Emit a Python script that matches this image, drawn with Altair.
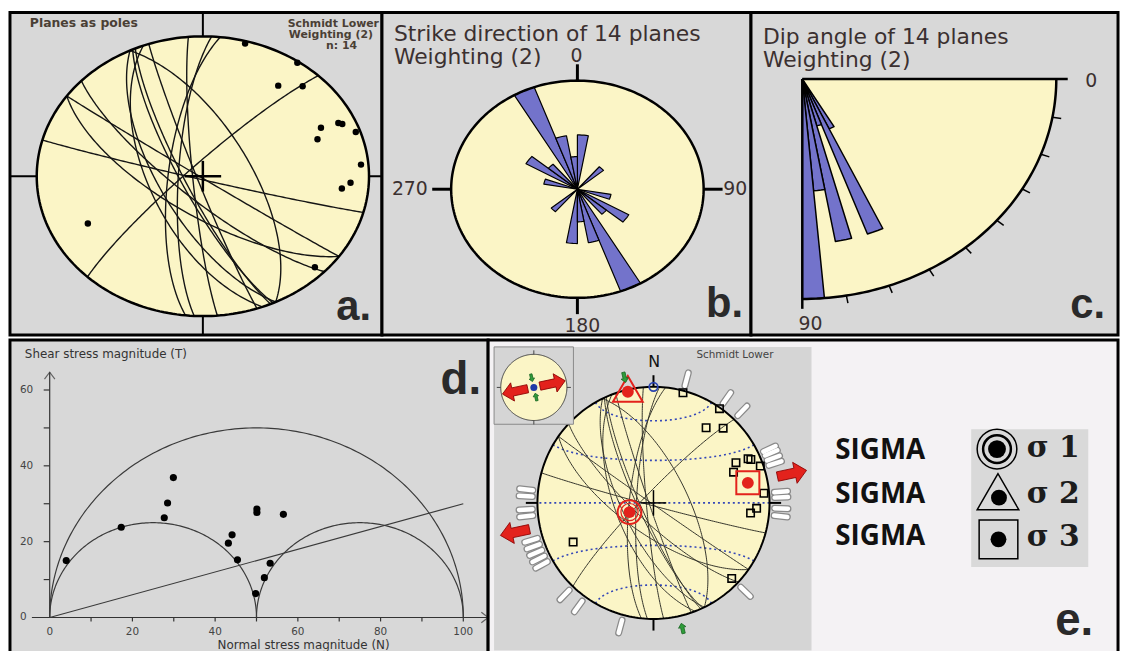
import numpy as np
import pandas as pd
import altair as alt

# ------------------------------------------------------------------ data
# 14 measured planes: dip direction / dip (degrees)
plane_dip_dir = [195, 215, 215, 223, 244, 249, 245, 246, 251, 265, 273, 276, 314, 64]
plane_dip = [88, 89, 68, 77, 68, 63, 79, 81, 87, 85, 78, 73, 83, 66]

# b. strike rose (bidirectional, 10 degree bins, relative petal length)
strike_bin_start = [0, 40, 100, 120, 130, 150, 160, 170]
strike_bin_len = [0.50, 0.27, 0.27, 0.47, 0.30, 1.00, 0.50, 0.30]
STRIKE_BIN = 10

# c. dip rose (5 degree bins, relative petal length)
dip_bin_start = [60, 65, 70, 75, 80, 85]
dip_bin_len = [0.25, 0.75, 0.22, 0.75, 0.51, 1.00]
DIP_BIN = 5
dip_ticks = [10, 20, 30, 40, 50, 60, 70, 80]

# d. Mohr diagram
principal_stress = [100, 50, 0]
friction_coef = 0.30
normal_stress = [4.0, 17.3, 27.7, 28.5, 29.9, 43.2, 44.1, 45.4, 49.8, 51.9, 53.3, 50.1, 50.1, 56.5]
shear_stress = [15.0, 23.8, 26.3, 30.2, 36.9, 19.6, 21.8, 15.2, 6.3, 10.5, 14.3, 28.6, 27.7, 27.2]
d_tick_x = [10, 20, 30, 40, 50, 60, 70, 80, 90, 100]
d_tick_y = [10, 20, 30, 40, 50, 60]
d_label_x = [0, 20, 40, 60, 80, 100]
d_label_y = [0, 20, 40, 60]

# e. principal stress axes (trend, plunge) and slip markers
sigma_trend = [249, 347, 78]
sigma_plunge = [72, 2, 18]
slip_marker_az = [15, 35, 44, 65, 67, 69.5, 72, 85, 87.5, 92.5, 96, 134, 195, 216, 224,
                  241, 244, 247, 250, 253, 264, 267, 273, 276]
small_circle_cone = [30, 60, 90, 120, 150]
compass_az = [0, 90, 180, 270]
legend_sigma = ["σ 1", "σ 2", "σ 3"]

# ------------------------------------------------------------------ styles
YEL = "#fbf5c6"
GRAY = "#d8d8d8"
GRAY_E = "#d5d5d5"
OFFWHITE = "#f4f2f4"
PETAL = "#7373cb"
TXT = "#3b3030"
RED = "#e3221c"
FONT = "DejaVu Sans"
LABEL_FONT = "Liberation Sans"


# ------------------------------------------------------------------ geometry helpers
def equal_area(trend, plunge):
    t = np.radians(np.asarray(trend, float))
    p = np.radians(np.asarray(plunge, float))
    r = np.sqrt(2) * np.sin((np.pi / 2 - p) / 2)
    return r * np.sin(t), r * np.cos(t)


def vec_to_tp(e, n, d):
    return np.degrees(np.arctan2(e, n)), np.degrees(np.arcsin(np.clip(d, -1, 1)))


def great_circle(dd, dp):
    t = np.radians(np.linspace(0, 180, 121))
    s, d, a = np.radians(dd - 90), np.radians(dd), np.radians(dp)
    e = np.cos(t) * np.sin(s) + np.sin(t) * np.sin(d) * np.cos(a)
    n = np.cos(t) * np.cos(s) + np.sin(t) * np.cos(d) * np.cos(a)
    dn = np.sin(t) * np.sin(a)
    return equal_area(*vec_to_tp(e, n, dn))


def small_circle_ns(cone):
    phi = np.radians(np.linspace(0, 180, 121))
    c = np.radians(cone)
    n = np.cos(c) * np.ones_like(phi)
    e = np.sin(c) * np.cos(phi)
    dn = np.sin(c) * np.sin(phi)
    return equal_area(*vec_to_tp(e, n, dn))


THETA = np.radians(np.linspace(0, 360, 241))


def ring(cx=0.0, cy=0.0, r=1.0, id_=0):
    return pd.DataFrame({"x": cx + r * np.sin(THETA), "y": cy + r * np.cos(THETA),
                         "i": np.arange(THETA.size), "id": id_})


def radial(az, r1, r2, cx=0.0, cy=0.0):
    a = np.radians(np.asarray(az, float))
    return pd.DataFrame({"x": cx + r1 * np.sin(a), "y": cy + r1 * np.cos(a),
                         "x2": cx + r2 * np.sin(a), "y2": cy + r2 * np.cos(a)})


def enc(xd, yd):
    return dict(x=alt.X("x:Q", scale=alt.Scale(domain=xd, nice=False, zero=False), axis=None),
                y=alt.Y("y:Q", scale=alt.Scale(domain=yd, nice=False, zero=False), axis=None))


def poly(df, xd, yd, fill, stroke="black", sw=1.0):
    return alt.Chart(df).mark_line(fill=fill, stroke=stroke, strokeWidth=sw, strokeJoin="round").encode(
        **enc(xd, yd), detail="id:N", order="i:Q")


def lines(df, xd, yd, color, sw, dash=None, clip=False):
    kw = dict(color=color, strokeWidth=sw, clip=clip)
    if dash:
        kw["strokeDash"] = dash
    return alt.Chart(df).mark_line(**kw).encode(**enc(xd, yd), detail="id:N", order="i:Q")


def segs(df, xd, yd, color, sw, cap="butt", clip=False):
    return alt.Chart(df).mark_rule(color=color, strokeWidth=sw, strokeCap=cap, clip=clip).encode(
        **enc(xd, yd), x2="x2:Q", y2="y2:Q")


def pts(df, xd, yd, **mk):
    return alt.Chart(df).mark_point(**mk).encode(**enc(xd, yd))


ONE = pd.DataFrame({"k": [0]})


def label(s, x, y, size, color="#222", weight="normal", font=FONT, align="left", baseline="alphabetic"):
    return alt.Chart(ONE).mark_text(text=s, fontSize=size, font=font, fontWeight=weight, color=color,
                                    align=align, baseline=baseline).encode(x=alt.value(x), y=alt.value(y))


def box(x1, y1, x2, y2, fill, stroke=None, sw=1):
    kw = dict(fill=fill)
    if stroke:
        kw.update(stroke=stroke, strokeWidth=sw)
    return alt.Chart(ONE).mark_rect(**kw).encode(x=alt.value(x1), x2=alt.value(x2), y=alt.value(y1),
                                                 y2=alt.value(y2))


def panel(layers, w, h, fill):
    return alt.layer(*layers).properties(width=w, height=h,
                                         view=alt.ViewBackground(fill=fill, stroke="black", strokeWidth=3))


ARROW = "M-1,-0.32L0.2,-0.32L0.2,-0.72L1,0L0.2,0.72L0.2,0.32L-1,0.32Z"
CHEVRON = "M-1,-1.5L1,0L-1,1.5"

# shared stereonet data
gc_df = pd.concat([pd.DataFrame({"x": g[0], "y": g[1], "i": np.arange(g[0].size), "id": k})
                   for k, g in enumerate(great_circle(dd, dp) for dd, dp in zip(plane_dip_dir, plane_dip))])
px_, py_ = equal_area(np.array(plane_dip_dir) + 180, 90 - np.array(plane_dip))
poles_df = pd.DataFrame({"x": px_, "y": py_})
unit_ring = ring()

# ------------------------------------------------------------------ panel a
W_A, W_B, W_C, H_TOP = 375, 372, 370, 325
XA, YA = [-1.161, 1.078], [-1.135, 1.170]
pa = panel([
    poly(unit_ring, XA, YA, YEL, "black", 0),
    segs(radial(compass_az, 1.0, 1.4), XA, YA, "black", 2, clip=True),
    lines(gc_df, XA, YA, "#151515", 1.4),
    segs(radial(compass_az, 0, 0.11), XA, YA, "black", 2.5),
    lines(unit_ring, XA, YA, "black", 2.5),
    pts(poles_df, XA, YA, shape="circle", filled=True, color="black", size=42, opacity=1),
    label("Planes as poles", 20, 15, 12.5, "#4a3f35", "bold"),
    label("Schmidt Lower", 372, 15, 11, "#4a3f35", "bold", align="right"),
    label("Weighting (2)", 366, 26, 11, "#4a3f35", "bold", align="right"),
    label("n: 14", 350, 37, 11, "#4a3f35", "bold", align="right"),
    label("a.", 364, 310, 42, "#2a2a2a", "bold", LABEL_FONT, align="right"),
], W_A, H_TOP, GRAY)

# ------------------------------------------------------------------ panel b
XB, YB = [-1.548, 1.375], [-1.342, 1.626]
rows = []
pid = 0
for s, L in zip(strike_bin_start, strike_bin_len):
    for base in (s, s + 180):
        az = np.radians(np.linspace(base, base + STRIKE_BIN, 6))
        xs = np.concatenate([[0], L * np.sin(az), [0]])
        ys = np.concatenate([[0], L * np.cos(az), [0]])
        rows.append(pd.DataFrame({"x": xs, "y": ys, "i": np.arange(xs.size), "id": pid}))
        pid += 1
petal_b = pd.concat(rows)
pb = panel([
    poly(unit_ring, XB, YB, YEL, "black", 0),
    segs(radial(compass_az, 1.0, 1.15), XB, YB, "black", 3),
    poly(petal_b, XB, YB, PETAL, "black", 1.2),
    lines(unit_ring, XB, YB, "black", 2.5),
    label("Strike direction of 14 planes", 12, 29, 22, TXT),
    label("Weighting (2)", 12, 52, 22, TXT),
    label("0", 196, 44, 19, TXT, align="center", baseline="middle"),
    label("90", 344, 178, 19, TXT, baseline="middle"),
    label("270", 10, 178, 19, TXT, baseline="middle"),
    label("180", 202, 316, 19, TXT, align="center", baseline="middle"),
    label("b.", 364, 307, 42, "#2a2a2a", "bold", LABEL_FONT, align="right"),
], W_B, H_TOP, GRAY)

# ------------------------------------------------------------------ panel c
XC, YC = [-0.202, 1.243], [-1.164, 0.302]


def fan_xy(ang, r):
    a = np.radians(np.asarray(ang, float))
    return r * np.cos(a), -r * np.sin(a)


fa = np.linspace(0, 90, 91)
fx, fy = fan_xy(fa, 1.0)
fan_df = pd.DataFrame({"x": np.concatenate([[0], fx, [0]]), "y": np.concatenate([[0], fy, [0]])})
fan_df["i"] = np.arange(len(fan_df))
fan_df["id"] = 0
arc_df = pd.DataFrame({"x": fx, "y": fy, "i": np.arange(fx.size), "id": 0})
rows = []
for k, (s, L) in enumerate(zip(dip_bin_start, dip_bin_len)):
    a = np.linspace(s, s + DIP_BIN, 4)
    xs, ys = fan_xy(a, L)
    xs = np.concatenate([[0], xs, [0]])
    ys = np.concatenate([[0], ys, [0]])
    rows.append(pd.DataFrame({"x": xs, "y": ys, "i": np.arange(xs.size), "id": k}))
petal_c = pd.concat(rows)
tx1, ty1 = fan_xy(dip_ticks, 1.0)
tx2, ty2 = fan_xy(dip_ticks, 1.035)
ticks_c = pd.DataFrame({"x": tx1, "y": ty1, "x2": tx2, "y2": ty2})
ax1, ay1 = fan_xy([0, 90], 0.0)
ax2, ay2 = fan_xy([0, 90], 1.045)
axes_c = pd.DataFrame({"x": ax1, "y": ay1, "x2": ax2, "y2": ay2})
pc = panel([
    poly(fan_df, XC, YC, YEL, "black", 0),
    segs(ticks_c, XC, YC, "black", 1.5),
    poly(petal_c, XC, YC, PETAL, "black", 1.5),
    lines(arc_df, XC, YC, "black", 2.5),
    segs(axes_c, XC, YC, "black", 2.5),
    label("Dip angle of 14 planes", 12, 32, 22, TXT),
    label("Weighting (2)", 12, 55, 22, TXT),
    label("0", 343, 69, 19, TXT, align="center", baseline="middle"),
    label("90", 60, 314, 19, TXT, align="center", baseline="middle"),
    label("c.", 357, 308, 42, "#2a2a2a", "bold", LABEL_FONT, align="right"),
], W_C, H_TOP, GRAY)

# ------------------------------------------------------------------ panel d
W_D, W_E, H_BOT = 482, 635, 318
XD, YD = [-9.6, 106.0], [-10.0, 73.2]
t = np.radians(np.linspace(0, 180, 181))
s1, s2, s3 = principal_stress
mohr = []
for k, (hi, lo) in enumerate([(s1, s3), (s1, s2), (s2, s3)]):
    c, R = (hi + lo) / 2, (hi - lo) / 2
    mohr.append(pd.DataFrame({"x": c + R * np.cos(t), "y": R * np.sin(t), "i": np.arange(t.size), "id": k}))
mohr_df = pd.concat(mohr)
env_df = pd.DataFrame({"x": [0, s1], "y": [0, friction_coef * s1], "i": [0, 1], "id": 0})
axes_d = pd.DataFrame({"x": [-4.3, 0], "y": [0, 0], "x2": [106.0, 0], "y2": [0, 64.7]})
ticks_dx = pd.DataFrame({"x": d_tick_x, "y": 0.0, "x2": d_tick_x, "y2": -1.05})
ticks_dy = pd.DataFrame({"x": -1.45, "y": d_tick_y, "x2": 0.0, "y2": d_tick_y})
heads_d = pd.DataFrame({"x": [105.2, 0.0], "y": [0.0, 63.8], "ang": [0, 270]})
stress_df = pd.DataFrame({"x": normal_stress, "y": shear_stress})
lab_dx = pd.DataFrame({"x": d_label_x, "y": -3.9, "t": [str(v) for v in d_label_x]})
lab_dy = pd.DataFrame({"y": d_label_y, "t": [str(v) for v in d_label_y]})
pd_ = panel([
    segs(axes_d, XD, YD, "#333", 1.2),
    segs(ticks_dx, XD, YD, "#333", 1.2),
    segs(ticks_dy, XD, YD, "#333", 1.2),
    alt.Chart(heads_d).mark_point(shape=CHEVRON, filled=False, stroke="#333", strokeWidth=1.2, size=49).encode(
        **enc(XD, YD), angle=alt.Angle("ang:Q", scale=None)),
    lines(mohr_df, XD, YD, "#3a3a3a", 1.2),
    lines(env_df, XD, YD, "#3a3a3a", 1.2),
    alt.Chart(stress_df).mark_circle(size=52, color="black", opacity=1).encode(**enc(XD, YD)),
    alt.Chart(lab_dx).mark_text(fontSize=10.5, font=FONT, color="#444", baseline="middle").encode(
        **enc(XD, YD), text="t:N"),
    alt.Chart(lab_dy).mark_text(fontSize=10.5, font=FONT, color="#444", align="left", baseline="middle").encode(
        x=alt.value(10), y=alt.Y("y:Q", scale=alt.Scale(domain=YD, nice=False, zero=False), axis=None),
        text="t:N"),
    label("Shear stress magnitude (T)", 15, 18, 12, "#333"),
    label("Normal stress magnitude (N)", 296, 312, 12, "#333", align="center"),
    label("d.", 475, 54, 46, "#2a2a2a", "bold", LABEL_FONT, align="right"),
], W_D, H_BOT, GRAY)

# ------------------------------------------------------------------ panel e
XE, YE = [-1.425, 4.003], [-1.314, 1.404]
sc_df = pd.concat([pd.DataFrame({"x": g[0], "y": g[1], "i": np.arange(g[0].size), "id": k})
                   for k, g in enumerate(small_circle_ns(c) for c in small_circle_cone)])
sx, sy = equal_area(sigma_trend, sigma_plunge)
sig = [pd.DataFrame({"x": [sx[k]], "y": [sy[k]]}) for k in range(3)]
a3 = np.array([sigma_trend[2], sigma_trend[2] + 180])
red_arrows = pd.DataFrame({"x": 1.22 * np.sin(np.radians(a3)), "y": 1.22 * np.cos(np.radians(a3)),
                           "ang": (a3 - 90) % 360})
a2 = np.array([sigma_trend[1], sigma_trend[1] + 180])
green_arrows = pd.DataFrame({"x": 1.11 * np.sin(np.radians(a2)), "y": 1.11 * np.cos(np.radians(a2)),
                             "ang": (a2 + 90) % 360})
nx, ny = equal_area([0], [0])
north_df = pd.DataFrame({"x": nx, "y": ny})
# inset
IC = (-1.031, 0.995)
IR = 0.285
inset_ring = ring(IC[0], IC[1], IR)
inset_ticks = radial(compass_az, IR, IR * 1.12, IC[0], IC[1])
inset_red = pd.DataFrame({"x": IC[0] + 0.165 * np.sin(np.radians(a3)),
                          "y": IC[1] + 0.165 * np.cos(np.radians(a3)), "ang": (a3 - 90) % 360})
inset_green = pd.DataFrame({"x": IC[0] + 0.085 * np.sin(np.radians(a2)),
                            "y": IC[1] + 0.085 * np.cos(np.radians(a2)), "ang": (a2 + 90) % 360})
inset_dot = pd.DataFrame({"x": [IC[0]], "y": [IC[1]]})


def sym(df, **mk):
    return alt.Chart(df).mark_point(**mk).encode(**enc(XE, YE))


def arrows(df, size, fill, stroke):
    return alt.Chart(df).mark_point(shape=ARROW, filled=True, fill=fill, stroke=stroke, strokeWidth=0.8,
                                    size=size, opacity=1).encode(**enc(XE, YE),
                                                                 angle=alt.Angle("ang:Q", scale=None))


def lg_pt(x, y, **mk):
    return alt.Chart(ONE).mark_point(**mk).encode(x=alt.value(x), y=alt.value(y))


pe = panel([
    box(6, 7, 326, 313, GRAY_E),
    poly(unit_ring, XE, YE, YEL, "black", 0),
    lines(sc_df, XE, YE, "#3447b8", 1.6, dash=[2, 3]),
    lines(gc_df, XE, YE, "#34342a", 1.0),
    segs(radial(compass_az, 0, 0.11), XE, YE, "black", 1.5),
    lines(unit_ring, XE, YE, "black", 2),
    segs(radial(compass_az, 1.0, 1.1), XE, YE, "black", 2),
    segs(radial(slip_marker_az, 1.045, 1.16), XE, YE, "#8a8a8a", 7, cap="round"),
    segs(radial(slip_marker_az, 1.045, 1.16), XE, YE, "white", 4.5, cap="round"),
    sym(poles_df, shape="square", filled=False, stroke="black", strokeWidth=1.6, size=56, opacity=1),
    # sigma 1
    sym(sig[0], shape="circle", filled=False, stroke=RED, strokeWidth=2, size=576, opacity=1),
    sym(sig[0], shape="circle", filled=False, stroke=RED, strokeWidth=1.2, size=300, opacity=1),
    # sigma 2
    sym(sig[1], shape="triangle-up", filled=False, stroke=RED, strokeWidth=2, size=900, opacity=1, yOffset=-3),
    # sigma 3
    sym(sig[2], shape="square", filled=False, stroke=RED, strokeWidth=2, size=540, opacity=1),
    alt.Chart(pd.concat(sig)).mark_circle(size=144, color=RED, opacity=1).encode(**enc(XE, YE)),
    arrows(red_arrows, 900, RED, "#8a0000"),
    arrows(green_arrows, 110, "#2f9c3a", "#1d6a25"),
    sym(north_df, shape="circle", filled=False, stroke="#2a44b0", strokeWidth=1.8, size=75, opacity=1),
    label("N", 167.5, 27, 16, "#111", align="center"),
    label("Schmidt Lower", 210, 18, 10.5, "#444"),
    # inset
    box(6, 7, 86, 85, GRAY_E, "#8a8a8a", 1),
    poly(inset_ring, XE, YE, YEL, "#444", 1),
    segs(inset_ticks, XE, YE, "#444", 1),
    arrows(inset_red, 680, RED, "#8a0000"),
    arrows(inset_green, 60, "#2f9c3a", "#1d6a25"),
    sym(inset_dot, shape="circle", filled=True, color="#1f3aa8", size=50, opacity=1),
    # legend
    box(487, 90, 605, 229, "#d9d9d9"),
    label("SIGMA", 350, 120, 28, "#111", "bold", "Open Sans"),
    label("SIGMA", 350, 164, 28, "#111", "bold", "Open Sans"),
    label("SIGMA", 350, 207, 28, "#111", "bold", "Open Sans"),
    lg_pt(513, 110, shape="circle", filled=False, stroke="black", strokeWidth=1.5, size=1600, opacity=1),
    lg_pt(513, 110, shape="circle", filled=False, stroke="black", strokeWidth=2.5, size=784, opacity=1),
    lg_pt(513, 110, shape="circle", filled=True, color="black", size=324, opacity=1),
    lg_pt(514, 153, shape="triangle-up", filled=False, stroke="black", strokeWidth=1.5, size=1764, opacity=1),
    lg_pt(515, 159, shape="circle", filled=True, color="black", size=256, opacity=1),
    lg_pt(514.5, 201, shape="square", filled=False, stroke="black", strokeWidth=1.5, size=1521, opacity=1),
    lg_pt(514.5, 201, shape="circle", filled=True, color="black", size=256, opacity=1),
    label(legend_sigma[0], 543, 118, 30, "#1c1c1c", "bold", "DejaVu Serif"),
    label(legend_sigma[1], 543, 164, 30, "#1c1c1c", "bold", "DejaVu Serif"),
    label(legend_sigma[2], 543, 208, 30, "#1c1c1c", "bold", "DejaVu Serif"),
    label("e.", 610, 297, 46, "#2a2a2a", "bold", LABEL_FONT, align="right"),
], W_E, H_BOT, OFFWHITE)

top = alt.hconcat(pa, pb, pc, spacing=0, bounds="flush")
bottom = alt.hconcat(pd_, pe, spacing=0, bounds="flush")
chart = alt.vconcat(top, bottom, spacing=0).properties(padding=0).configure_view(
    stroke="black", strokeWidth=3)

chart.save("out.html", embed_options={"renderer": "svg", "actions": False})
